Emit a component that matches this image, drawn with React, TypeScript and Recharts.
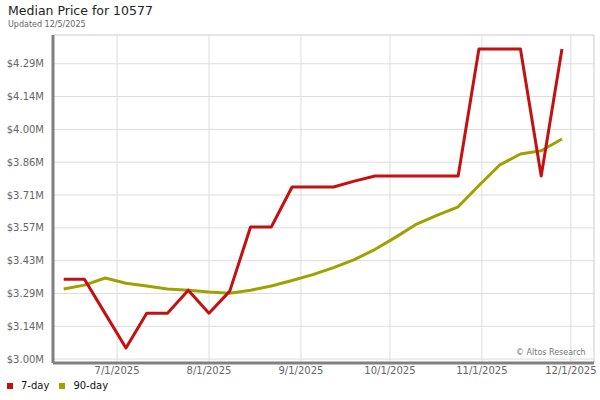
import React from "react";
import { LineChart, Line, XAxis, YAxis, CartesianGrid, ReferenceLine } from "recharts";

// days since 2025-06-01
const days = [12, 19, 26, 33, 40, 47, 54, 61, 68, 75, 82, 89, 96, 103, 110, 117, 124, 131, 138, 145, 152, 159, 166, 173, 180];
const sevenDay = [3.348, 3.348, 3.198, 3.048, 3.2, 3.2, 3.3, 3.2, 3.296, 3.575, 3.575, 3.749, 3.749, 3.749, 3.775, 3.797, 3.797, 3.797, 3.797, 3.797, 4.35, 4.35, 4.35, 3.797, 4.35];
const ninetyDay = [3.305, 3.322, 3.353, 3.33, 3.318, 3.305, 3.3, 3.292, 3.287, 3.3, 3.318, 3.342, 3.368, 3.398, 3.433, 3.478, 3.531, 3.588, 3.627, 3.663, 3.756, 3.845, 3.893, 3.907, 3.958];
const xTicks = [30, 61, 92, 122, 153, 183];
const xTickLabels = ["7/1/2025", "8/1/2025", "9/1/2025", "10/1/2025", "11/1/2025", "12/1/2025"];
const yTicks = [3.0, 3.142857, 3.285714, 3.428571, 3.571429, 3.714286, 3.857143, 4.0, 4.142857, 4.285714];

const X_DOMAIN: [number, number] = [8.4, 190.8];
const Y_DOMAIN: [number, number] = [2.983, 4.411];

const data = days.map((d, i) => ({ d, s: sevenDay[i], n: ninetyDay[i] }));

const RED = "#c41010";
const OLIVE = "#a0a000";
const FONT = "'DejaVu Sans', sans-serif";

export default function App() {
  return (
    <div style={{ position: "absolute", left: 0, top: 0, width: 600, height: 400, background: "#fff", fontFamily: FONT }}>
      <div style={{ position: "absolute", left: 8, top: 3, fontSize: 12.5, color: "#222", whiteSpace: "nowrap" }}>Median Price for 10577</div>
      <div style={{ position: "absolute", left: 8, top: 20, fontSize: 8, color: "#666", whiteSpace: "nowrap" }}>Updated 12/5/2025</div>
      <LineChart width={600} height={400} data={data} margin={{ top: 35, right: 6, left: 0, bottom: 17 }}>
        <CartesianGrid stroke="#dddddd" strokeWidth={1} vertical={true} horizontal={true} />
        <ReferenceLine y={Y_DOMAIN[1]} stroke="#dddddd" />
        <ReferenceLine x={X_DOMAIN[1]} stroke="#dddddd" />
        <XAxis
          dataKey="d"
          type="number"
          domain={X_DOMAIN}
          ticks={xTicks}
          allowDataOverflow
          tickFormatter={(v: number) => xTickLabels[xTicks.indexOf(v)] ?? ""}
          tick={{ fill: "#666", fontSize: 10, fontFamily: FONT }}
          axisLine={{ stroke: "#808080", strokeWidth: 3 }}
          tickLine={false}
          tickSize={4}
          tickMargin={0}
          height={20}
        />
        <YAxis
          type="number"
          domain={Y_DOMAIN}
          ticks={yTicks}
          allowDataOverflow
          tickFormatter={(v: number) => "$" + v.toFixed(2) + "M"}
          tick={{ fill: "#666", fontSize: 10, fontFamily: FONT }}
          axisLine={{ stroke: "#808080", strokeWidth: 3 }}
          tickLine={false}
          width={53}
          tickMargin={3}
        />
        <Line dataKey="n" stroke={OLIVE} strokeWidth={3} dot={false} isAnimationActive={false} strokeLinejoin="round" />
        <Line dataKey="s" stroke={RED} strokeWidth={3} dot={false} isAnimationActive={false} strokeLinejoin="round" />
      </LineChart>
      <div style={{ position: "absolute", left: 516, top: 348, fontSize: 8, color: "#777", whiteSpace: "nowrap" }}>© Altos Research</div>
      <div style={{ position: "absolute", left: 7, top: 380, fontSize: 10, color: "#111", display: "flex", alignItems: "center", whiteSpace: "nowrap" }}>
        <span style={{ display: "inline-block", width: 6, height: 6, background: RED, marginRight: 8 }} />
        <span style={{ marginRight: 10 }}>7-day</span>
        <span style={{ display: "inline-block", width: 6, height: 6, background: OLIVE, marginRight: 8 }} />
        <span>90-day</span>
      </div>
    </div>
  );
}
